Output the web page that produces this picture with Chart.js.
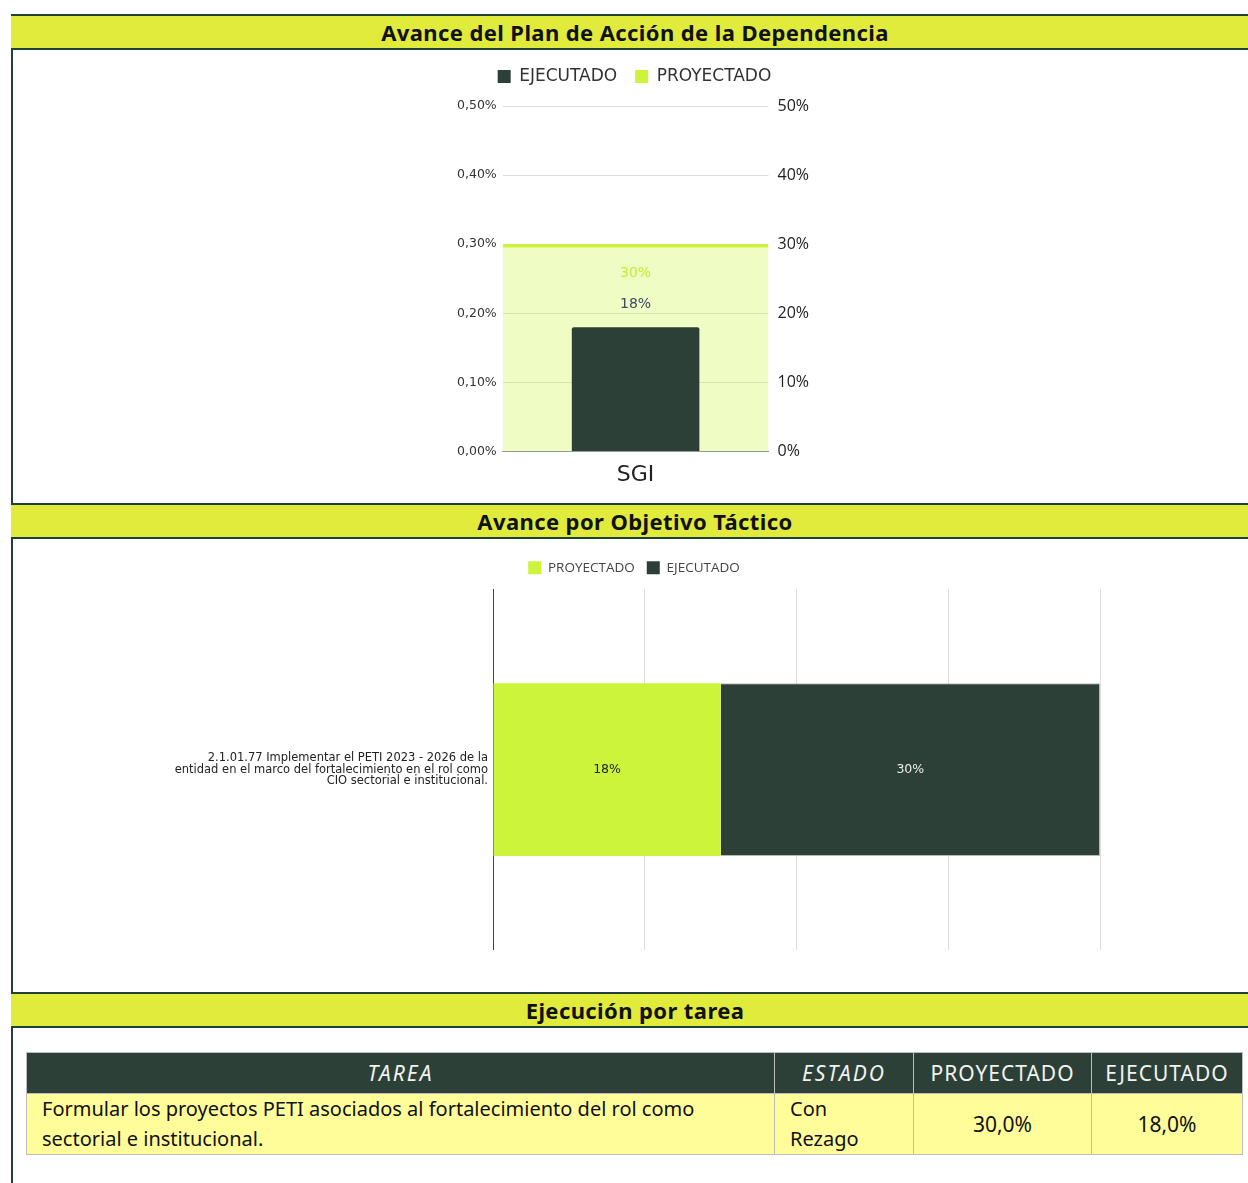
<!DOCTYPE html>
<html lang="es">
<head>
<meta charset="utf-8">
<title>Avance del Plan de Acción</title>
<script src="https://cdn.jsdelivr.net/npm/chart.js@4.4.0/dist/chart.umd.min.js"></script>
<style>
    body {
        margin: 0;
        width: 1248px;
        height: 1183px;
        overflow: hidden;
        position: relative;
        background: #fff;
        font-family: "Noto Sans", Lato, sans-serif;
    }
    .frame {
        position: absolute;
        left: 11px;
        top: 14px;
        width: 2px;
        height: 1169px;
        background: #22403a;
    }
    .band {
        position: absolute;
        left: 11px;
        width: 1248px;
        height: 32px;
        background: #e1eb3c;
        border-top: 2px solid #22403a;
        border-bottom: 2px solid #22403a;
        text-align: center;
        font-weight: 700;
        font-size: 22px;
        letter-spacing: 0.4px;
        line-height: 32px;
        color: #111;
    }
    .chart-box { position: absolute; }
    table.tareas {
        position: absolute;
        left: 26px;
        top: 1052px;
        width: 1217px;
        border-collapse: collapse;
        font-size: 20px;
        table-layout: fixed;
    }
    table.tareas th {
        background: #2c4037;
        color: #f2f2f2;
        font-weight: 400;
        font-size: 21px;
        letter-spacing: 1px;
        height: 40px;
        border: 1px solid #bdbdbd;
        padding: 0;
    }
    table.tareas th.it { font-style: italic; letter-spacing: 2px; }
    table.tareas td {
        background: #fffd99;
        color: #111;
        border: 1px solid #bdbdbd;
        height: 57px;
        line-height: 30px;
        padding: 0 15px;
        vertical-align: middle;
    }
    table.tareas td.num { text-align: center; font-size: 21px; }
</style>
</head>
<body>
<div class="frame"></div>

<div class="band" style="top:14px">Avance del Plan de Acción de la Dependencia</div>
<div class="chart-box" style="left:451px; top:50px; width:367px; height:440px">
    <canvas id="chart-plan"></canvas>
</div>

<div class="band" style="top:503px">Avance por Objetivo Táctico</div>
<div class="chart-box" style="left:13px; top:549px; width:1242px; height:423px">
    <canvas id="chart-objetivo"></canvas>
</div>

<div class="band" style="top:992px">Ejecución por tarea</div>
<table class="tareas">
    <thead>
        <tr>
            <th class="it" style="width:747px">TAREA</th>
            <th class="it" style="width:138px">ESTADO</th>
            <th style="width:177px">PROYECTADO</th>
            <th>EJECUTADO</th>
        </tr>
    </thead>
    <tbody id="tareas-body"></tbody>
</table>

<script>
// Datos del plan de acción
const planCategorias = ['SGI'];
const planEjecutado = [0.18];
const planProyectado = [0.30];

// Datos por objetivo táctico
const objetivoLabels = [[
    '2.1.01.77 Implementar el PETI 2023 - 2026 de la',
    'entidad en el marco del fortalecimiento en el rol como',
    'CIO sectorial e institucional.'
]];
const objetivoProyectado = [18];
const objetivoEjecutado = [30];

// Datos de la tabla de tareas
const tareaNombres = ['Formular los proyectos PETI asociados al fortalecimiento del rol como sectorial e institucional.'];
const tareaEstados = ['Con Rezago'];
const tareaProyectado = [30.0];
const tareaEjecutado = [18.0];

const VERDE = '#cbf43b';
const OSCURO = '#2c4037';

// Etiquetas de valores sobre las barras
const etiquetasPlugin = {
    id: 'etiquetas',
    afterDatasetsDraw(chart) {
        const ctx = chart.ctx;
        chart.data.datasets.forEach((ds, i) => {
            const cfg = ds.etiqueta;
            if (!cfg) return;
            const meta = chart.getDatasetMeta(i);
            meta.data.forEach((bar, j) => {
                let x, y;
                if (chart.options.indexAxis === 'y') {
                    x = (bar.x + bar.base) / 2;
                    y = bar.y;
                } else {
                    x = bar.x;
                    y = bar.y + cfg.offset;
                }
                ctx.save();
                ctx.font = cfg.font;
                ctx.fillStyle = cfg.color;
                ctx.textAlign = 'center';
                ctx.textBaseline = 'middle';
                ctx.fillText(cfg.format(ds.data[j]), x, y);
                ctx.restore();
            });
        });
    }
};

// Espacio extra debajo de la leyenda
const margenLeyenda = {
    id: 'margenLeyenda',
    beforeInit(chart) {
        const fitOriginal = chart.legend.fit;
        chart.legend.fit = function () {
            fitOriginal.bind(chart.legend)();
            this.height += chart.options.plugins.margenLeyenda.extra || 0;
        };
    }
};

// Leyenda con cuadros sólidos
function leyendaSolida(chart) {
    const items = Chart.defaults.plugins.legend.labels.generateLabels(chart);
    items.forEach(item => {
        const ds = chart.data.datasets[item.datasetIndex];
        item.fillStyle = ds.colorLeyenda || ds.backgroundColor;
        item.strokeStyle = item.fillStyle;
        item.lineWidth = 0;
    });
    return items;
}

function initPlanChart() {
    new Chart(document.getElementById('chart-plan'), {
        type: 'bar',
        data: {
            labels: planCategorias,
            datasets: [{
                label: 'EJECUTADO',
                data: planEjecutado,
                backgroundColor: OSCURO,
                borderRadius: 2,
                barPercentage: 0.48,
                categoryPercentage: 1,
                grouped: false,
                order: 1,
                etiqueta: { offset: -23, font: '14px "DejaVu Sans"', color: '#3b4a66', format: v => Math.round(v * 100) + '%' }
            }, {
                label: 'PROYECTADO',
                data: planProyectado,
                backgroundColor: 'rgba(203, 244, 59, 0.3)',
                borderColor: VERDE,
                borderWidth: { top: 3, left: 0, right: 0, bottom: 0 },
                borderSkipped: false,
                colorLeyenda: VERDE,
                barPercentage: 1,
                categoryPercentage: 1,
                grouped: false,
                order: 2,
                etiqueta: { offset: 29, font: '14px "DejaVu Sans"', color: '#c4ec38', format: v => Math.round(v * 100) + '%' }
            }]
        },
        options: {
            responsive: true,
            maintainAspectRatio: false,
            animation: false,
            plugins: {
                margenLeyenda: { extra: 11 },
                legend: {
                    labels: {
                        boxWidth: 13,
                        boxHeight: 13,
                        padding: 18,
                        color: '#333',
                        font: { size: 17, family: '"DejaVu Sans"' },
                        generateLabels: leyendaSolida
                    }
                },
                tooltip: { enabled: false }
            },
            scales: {
                x: {
                    grid: { display: false },
                    border: { color: '#999' },
                    ticks: { color: '#222', font: { size: 22, family: '"DejaVu Sans"' }, padding: 2 }
                },
                y: {
                    min: 0,
                    max: 0.5,
                    ticks: {
                        stepSize: 0.1,
                        padding: 6,
                        color: '#333',
                        font: { size: 12.5, family: '"DejaVu Sans"' },
                        callback: v => v.toFixed(2).replace('.', ',') + '%'
                    },
                    grid: { color: '#dcdcdc', drawTicks: false },
                    border: { display: false }
                },
                y1: {
                    position: 'right',
                    min: 0,
                    max: 50,
                    ticks: {
                        stepSize: 10,
                        padding: 9,
                        color: '#222',
                        font: { size: 16, family: '"Open Sans"' },
                        callback: v => v + '%'
                    },
                    grid: { display: false, drawTicks: false },
                    border: { display: false }
                }
            }
        },
        plugins: [etiquetasPlugin, margenLeyenda]
    });
}

function initObjetivoChart() {
    new Chart(document.getElementById('chart-objetivo'), {
        type: 'bar',
        data: {
            labels: objetivoLabels,
            datasets: [{
                label: 'PROYECTADO',
                data: objetivoProyectado,
                backgroundColor: VERDE,
                barPercentage: 0.6,
                categoryPercentage: 0.8,
                etiqueta: { font: '12.5px "DejaVu Sans"', color: '#222', format: v => v + '%' }
            }, {
                label: 'EJECUTADO',
                data: objetivoEjecutado,
                backgroundColor: OSCURO,
                borderColor: '#b8b8b8',
                borderWidth: 1,
                borderSkipped: 'left',
                barPercentage: 0.6,
                categoryPercentage: 0.8,
                etiqueta: { font: '12.5px "DejaVu Sans"', color: '#eee', format: v => v + '%' }
            }]
        },
        options: {
            indexAxis: 'y',
            responsive: true,
            maintainAspectRatio: false,
            animation: false,
            plugins: {
                margenLeyenda: { extra: 5 },
                legend: {
                    labels: {
                        boxWidth: 13,
                        boxHeight: 13,
                        padding: 12,
                        color: '#444',
                        font: { size: 13.5, family: '"Open Sans"' },
                        generateLabels: leyendaSolida
                    }
                },
                tooltip: { enabled: false }
            },
            scales: {
                x: {
                    stacked: true,
                    min: 0,
                    max: 48,
                    ticks: { stepSize: 12, display: false },
                    grid: { color: '#dcdcdc', drawTicks: false },
                    border: { display: false }
                },
                y: {
                    stacked: true,
                    grid: { display: false, drawTicks: false },
                    border: { color: '#444' },
                    ticks: {
                        color: '#222',
                        padding: 5,
                        font: { size: 11.5, family: '"DejaVu Sans"', lineHeight: 1.0 }
                    },
                    afterFit: scale => { scale.width = 480; }
                },
                derecha: {
                    axis: 'y',
                    position: 'right',
                    ticks: { display: false },
                    grid: { display: false, drawTicks: false },
                    border: { display: false },
                    afterFit: scale => { scale.width = 155; }
                }
            }
        },
        plugins: [etiquetasPlugin, margenLeyenda]
    });
}

function fillTabla() {
    const body = document.getElementById('tareas-body');
    tareaNombres.forEach((nombre, i) => {
        const tr = document.createElement('tr');
        const fmt = v => v.toFixed(1).replace('.', ',') + '%';
        tr.innerHTML = `<td>${nombre}</td><td>${tareaEstados[i]}</td>` +
            `<td class="num">${fmt(tareaProyectado[i])}</td><td class="num">${fmt(tareaEjecutado[i])}</td>`;
        body.appendChild(tr);
    });
}

initPlanChart();
initObjetivoChart();
fillTabla();
</script>
</body>
</html>
